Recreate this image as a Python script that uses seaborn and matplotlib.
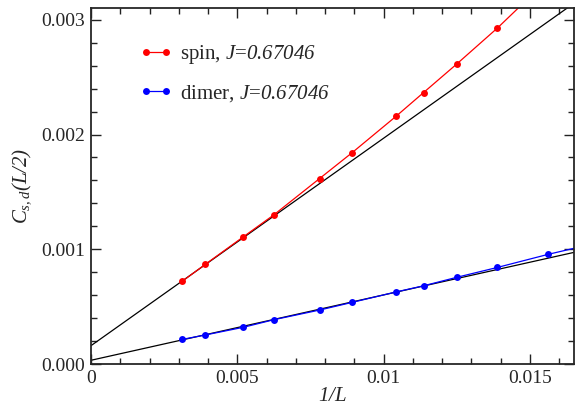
import numpy as np
import pandas as pd
import matplotlib
matplotlib.use("Agg")
import matplotlib.pyplot as plt
import seaborn as sns
from matplotlib.ticker import MultipleLocator, FuncFormatter

# system sizes and correlations
L_spin = [320, 256, 192, 160, 128, 112, 96, 88, 80, 72, 64]
C_spin = [0.000724, 0.000870, 0.001110, 0.001301, 0.001617, 0.001843,
          0.002157, 0.002365, 0.002614, 0.002927, 0.003351]
L_dimer = [320, 256, 192, 160, 128, 112, 96, 88, 80, 72, 64, 56]
C_dimer = [0.000217, 0.000255, 0.000322, 0.000388, 0.000472, 0.000539,
           0.000629, 0.000683, 0.000757, 0.000843, 0.000957, 0.001090]

# linear fits (intercept, slope) in 1/L
fit_spin = (0.000162, 0.1806)
fit_dimer = (0.0000348, 0.0569)
fit_x = [0.0, 0.02]

J_label = "0.67046"

sns.set_style("ticks")
plt.rcParams['font.family'] = ['Liberation Serif', 'DejaVu Serif']
# all math text italic, digits and brackets included
plt.rcParams['mathtext.fontset'] = 'custom'
plt.rcParams['mathtext.rm'] = 'Liberation Serif:italic'
plt.rcParams['mathtext.it'] = 'Liberation Serif:italic'

df_spin = pd.DataFrame({'x': 1.0 / np.array(L_spin), 'y': C_spin})
df_dimer = pd.DataFrame({'x': 1.0 / np.array(L_dimer), 'y': C_dimer})

fig = plt.figure(figsize=(5.75, 4.07), dpi=100)
ax = fig.add_axes([0.1583, 0.105, 0.8417 - 0.002, 0.875])

for (a, b) in [fit_spin, fit_dimer]:
    fy = [a + b * xx for xx in fit_x]
    sns.lineplot(x=fit_x, y=fy, color='black', lw=0.9, ax=ax, legend=False,
                 sort=False, estimator=None)

sns.lineplot(data=df_spin, x='x', y='y', color='#ff0000', lw=0.9, marker='o',
             markersize=5, markeredgewidth=0, sort=False, estimator=None, ax=ax,
             label='spin, $J$=$' + J_label + '$')
sns.lineplot(data=df_dimer, x='x', y='y', color='#0000ff', lw=0.9, marker='o',
             markersize=5, markeredgewidth=0, sort=False, estimator=None, ax=ax,
             label='dimer, $J$=$' + J_label + '$')

ax.set_xlim(0, 0.0165)
ax.set_ylim(0, 0.0031)
ax.xaxis.set_major_locator(MultipleLocator(0.005))
ax.xaxis.set_minor_locator(MultipleLocator(0.001))
ax.yaxis.set_major_locator(MultipleLocator(0.001))
ax.yaxis.set_minor_locator(MultipleLocator(0.0002))
ax.xaxis.set_major_formatter(FuncFormatter(lambda v, p: '{:g}'.format(round(v, 6))))
ax.yaxis.set_major_formatter(FuncFormatter(lambda v, p: '{:.3f}'.format(v)))

ax.tick_params(which='both', direction='in', top=True, right=True, labelsize=14,
               width=1.0, color='#222222')
ax.tick_params(which='major', length=7, pad=4)
ax.tick_params(which='minor', length=4)
for s in ax.spines.values():
    s.set_linewidth(1.3)
    s.set_visible(True)

ax.set_xlabel(r'$1/L$', fontsize=15, labelpad=0)
ax.set_ylabel(r'$C_{s,d}(L/2)$', fontsize=15, labelpad=6)

ax.legend(loc='upper left', bbox_to_anchor=(0.084, 0.925), frameon=False,
          fontsize=15, handlelength=1.56, handletextpad=0.37, labelspacing=0.8,
          numpoints=2, borderaxespad=0)

fig.savefig('out.png', dpi=100)
